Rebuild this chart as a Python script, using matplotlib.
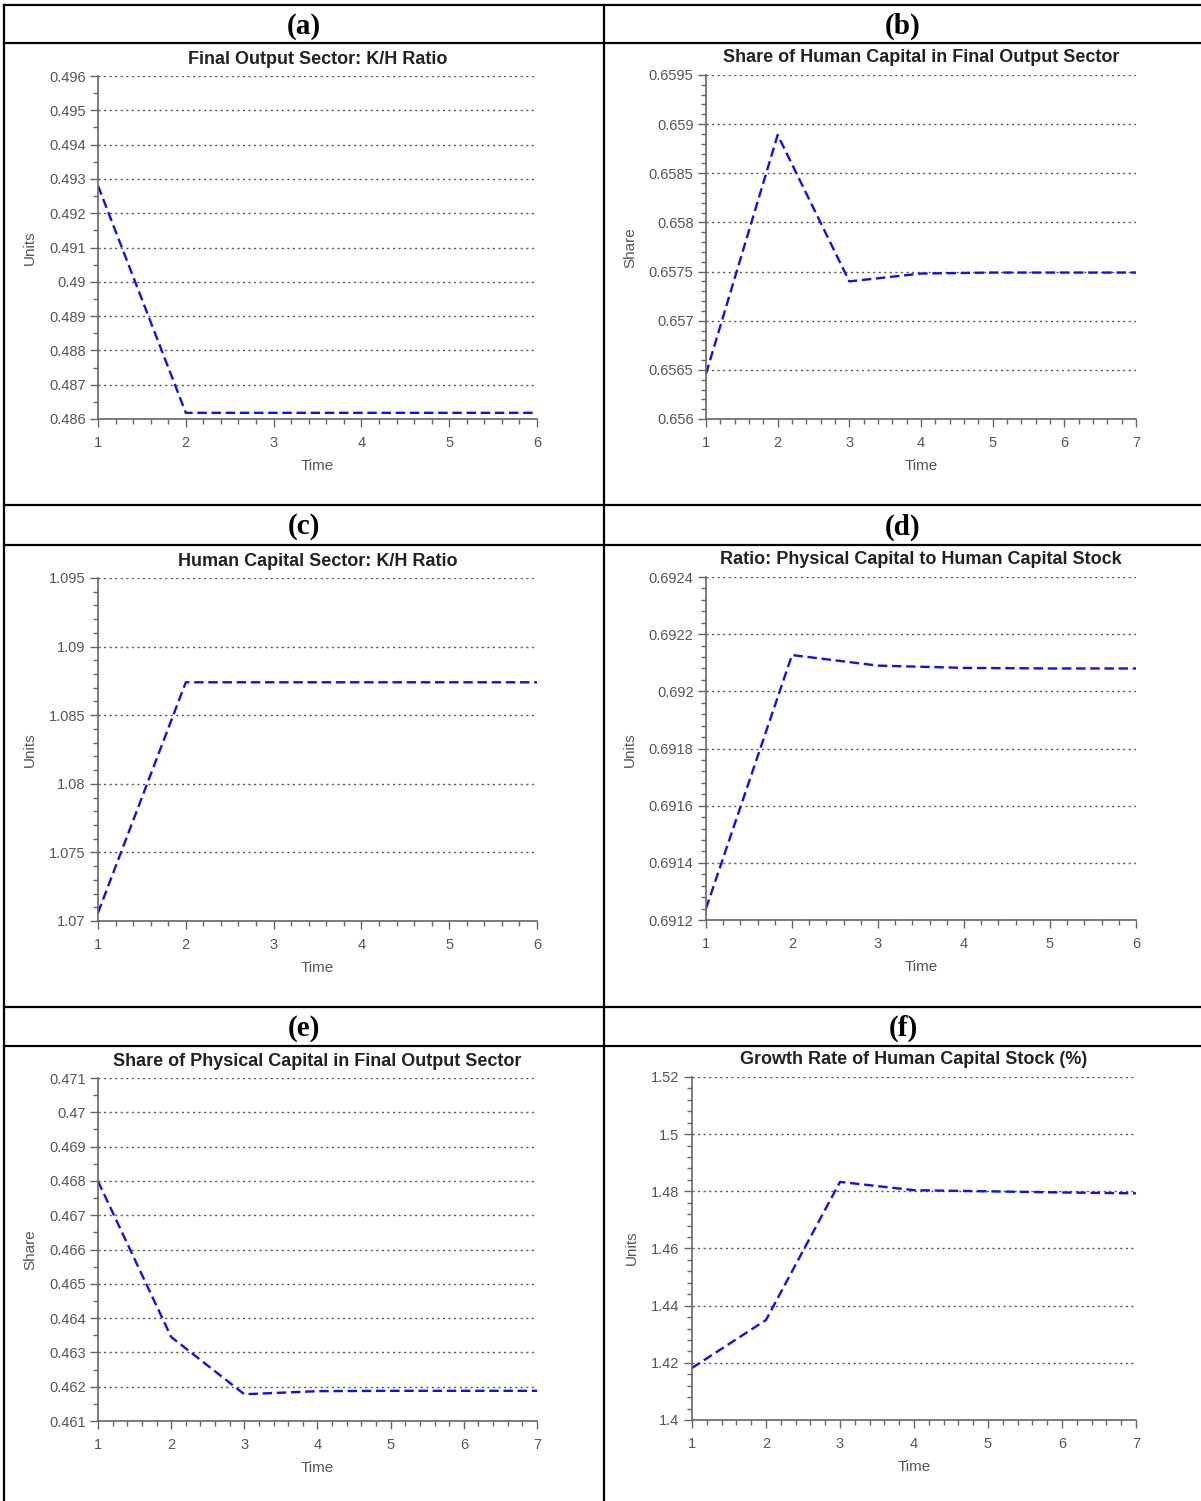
import matplotlib
matplotlib.use("Agg")
import matplotlib.pyplot as plt
from matplotlib.lines import Line2D
from matplotlib.ticker import MultipleLocator, FuncFormatter

plt.rcParams['font.family'] = ['Liberation Sans', 'DejaVu Sans']

W, H = 1201, 1501

# donnees
t6 = [1, 2, 3, 4, 5, 6]
t7 = [1, 2, 3, 4, 5, 6, 7]
kh_final = [0.4928, 0.48618, 0.48618, 0.48618, 0.48618, 0.48618]
share_h_final = [0.65646, 0.65889, 0.65740, 0.65748, 0.65749, 0.65749, 0.65749]
kh_human = [1.0706, 1.0874, 1.0874, 1.0874, 1.0874, 1.0874]
ratio_k_h = [0.69124, 0.692127, 0.69209, 0.692082, 0.69208, 0.69208]
share_k_final = [0.46799, 0.46345, 0.46178, 0.46187, 0.46188, 0.46188, 0.46188]
growth_h = [1.4182, 1.4350, 1.4833, 1.4804, 1.4800, 1.4796, 1.4793]

panels = [
    # label, titre, ylabel, x, y, ylim, major, minor, box (left, right, top, bottom) en pixels
    ("(a)", "Final Output Sector: K/H Ratio", "Units", t6, kh_final,
     (0.486, 0.496), 0.001, 0.0005, (98, 537, 76, 419), (30, 248)),
    ("(b)", "Share of Human Capital in Final Output Sector", "Share", t7, share_h_final,
     (0.656, 0.6595), 0.0005, 0.0001, (706, 1136, 75, 419), (630, 248)),
    ("(c)", "Human Capital Sector: K/H Ratio", "Units", t6, kh_human,
     (1.07, 1.095), 0.005, 0.001, (98, 537, 578, 921), (30, 750)),
    ("(d)", "Ratio: Physical Capital to Human Capital Stock", "Units", t6, ratio_k_h,
     (0.6912, 0.6924), 0.0002, 0.00004, (706, 1136, 577, 920), (630, 750)),
    ("(e)", "Share of Physical Capital in Final Output Sector", "Share", t7, share_k_final,
     (0.461, 0.471), 0.001, 0.0005, (98, 537, 1078, 1421), (30, 1250)),
    ("(f)", "Growth Rate of Human Capital Stock (%)", "Units", t7, growth_h,
     (1.40, 1.52), 0.02, 0.004, (692, 1136, 1077, 1420), (632, 1248)),
]

header_y = [(5, 43), (505, 545), (1007, 1046)]

fig = plt.figure(figsize=(W / 100, H / 100), dpi=100)
fig.patch.set_facecolor('white')

grey = '#666666'
for i, (lab, titre, ylab, x, y, ylim, maj, mnr, box, ylpos) in enumerate(panels):
    l, r, t, b = box
    ax = fig.add_axes([l / W, 1 - b / H, (r - l) / W, (b - t) / H])
    ax.plot(x, y, color='#1010ee', linestyle='--', linewidth=1.7, dashes=(4, 2))
    ax.set_xlim(x[0], x[-1])
    ax.set_ylim(*ylim)
    ax.yaxis.set_major_locator(MultipleLocator(maj))
    ax.yaxis.set_minor_locator(MultipleLocator(mnr))
    ax.xaxis.set_major_locator(MultipleLocator(1))
    ax.xaxis.set_minor_locator(MultipleLocator(0.2))
    ax.grid(axis='y', which='major', linestyle=(0, (1.5, 2.5)), color='#555555', linewidth=1.0)
    ax.set_axisbelow(True)
    for s in ['top', 'right']:
        ax.spines[s].set_visible(False)
    for s in ['left', 'bottom']:
        ax.spines[s].set_color(grey)
        ax.spines[s].set_linewidth(1.2)
    ax.tick_params(which='major', length=6, width=1.0, color=grey, labelcolor='#555555',
                   labelsize=10.5, pad=3)
    ax.tick_params(axis='x', which='major', pad=6)
    ax.tick_params(which='minor', length=3.5, width=1.0, color=grey)
    ax.yaxis.set_major_formatter(FuncFormatter(lambda v, p: ('%.5f' % v).rstrip('0').rstrip('.')))
    ax.set_title(titre, fontsize=13, fontweight='bold', color='#222222', pad=9)
    ax.set_xlabel("Time", fontsize=11, color='#555555', labelpad=7)
    fig.text(ylpos[0] / W, 1 - ylpos[1] / H, ylab, rotation=90, fontsize=11,
             color='#555555', ha='center', va='center')
    cx = 304 if i % 2 == 0 else 903
    hy = header_y[i // 2]
    fig.text(cx / W, 1 - ((hy[0] + hy[1]) / 2 + 2) / H, lab, fontsize=21, fontweight='bold',
             family=['Liberation Serif'], ha='center', va='center')

# lignes du tableau
for yy in [5, 43, 505, 545, 1007, 1046]:
    fig.add_artist(Line2D([4 / W, 1], [1 - yy / H, 1 - yy / H], color='black', linewidth=1.6))
for xx in [4, 604]:
    fig.add_artist(Line2D([xx / W, xx / W], [0, 1 - 5 / H], color='black', linewidth=1.6))

fig.savefig("out.png", dpi=100)
